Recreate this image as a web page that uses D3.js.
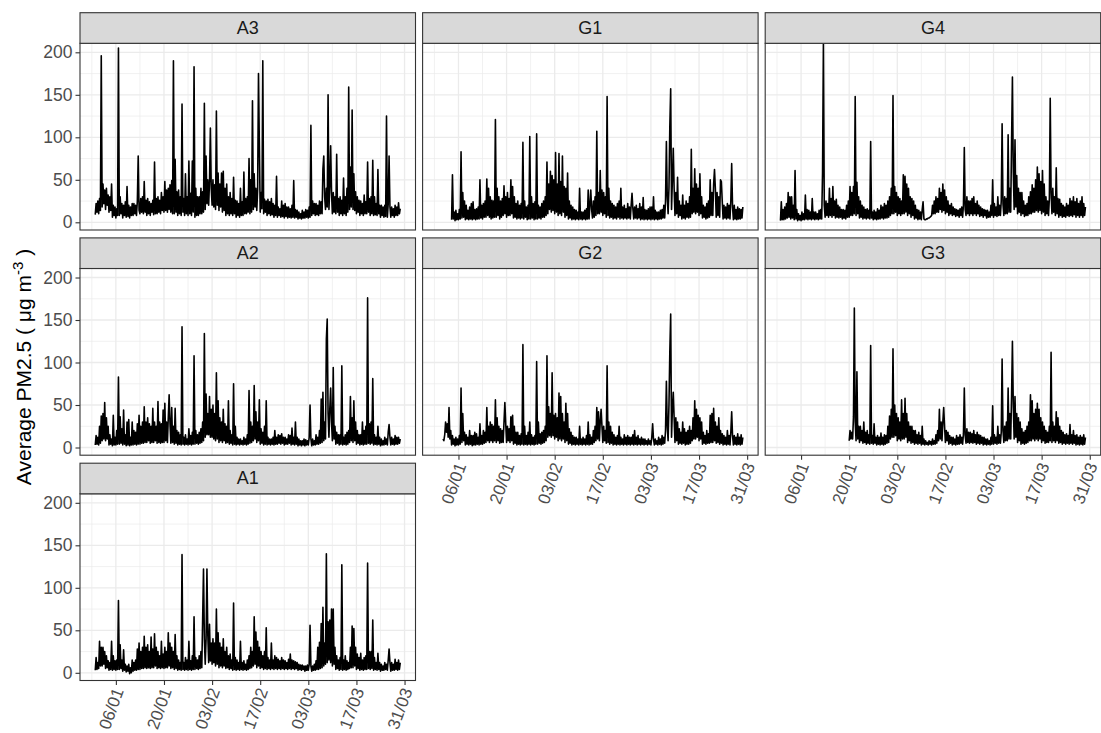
<!DOCTYPE html>
<html lang="en">

<head>
    <meta charset="UTF-8">
    <script src="https://d3js.org/d3.v7.min.js"></script>
    <title>PM2.5 by site</title>
    <style>
        body { margin: 0; background: #fff; }
        text { font-family: "Liberation Sans", Arial, sans-serif; }
    </style>
</head>

<body>
    <script>
        // 6-hourly PM2.5, first value at 31/12 00:00 + offset steps
        var a3 = [
            9,22,12,25, 10,28,14,196, 18,45,22,38, 15,40,20,32, 12,30,14,45, 6,20,8,18, 5,16,8,205,
            8,30,10,22, 5,20,8,24, 6,42,7,20, 5,18,8,22, 8,22,10,20, 8,25,78,14, 10,28,12,30,
            10,48,12,26, 8,28,10,24, 8,22,12,26, 9,71,10,28, 10,30,12,26, 10,35,14,30, 12,48,14,38,
            12,40,15,44, 12,49,10,190, 10,74,12,36, 8,38,10,30, 8,139,12,28, 8,57,10,30, 8,72,10,34,
            8,72,12,183, 6,40,8,30, 8,30,10,40, 10,36,12,140, 15,78,22,50, 20,48,111,40, 20,50,18,44,
            15,131,20,58, 14,45,18,58, 12,60,14,40, 8,45,10,30, 8,35,10,28, 8,53,10,26, 6,25,8,22,
            6,40,8,24, 8,59,10,28, 10,30,12,75, 10,50,12,143, 15,57,18,40, 14,38,175,90, 12,35,16,190,
            10,27,12,25, 8,27,10,24, 8,28,9,22, 6,20,8,54, 6,18,8,16, 6,25,7,20, 5,22,7,18,
            5,18,6,16, 5,20,6,49, 5,15,6,14, 4,12,5,10, 4,14,5,12, 5,15,6,14, 5,18,6,114,
            8,25,10,22, 8,22,9,20, 8,25,10,24, 10,63,78,30, 15,40,18,150, 15,42,90,35, 10,35,12,30,
            10,80,12,28, 8,30,10,26, 8,52,10,30, 8,40,12,159, 15,65,18,132, 15,57,14,36, 10,30,12,26,
            8,25,10,22, 8,32,10,24, 10,71,12,28, 8,30,10,73, 8,30,9,22, 8,62,10,20, 6,20,8,18,
            6,20,7,125, 6,22,78,18, 6,18,8,16, 6,20,8,18, 8,23,10,16
        ];
        var g1 = [
            3,56,4,12, 2,14,3,10, 3,15,4,83, 5,35,6,25, 3,20,4,14, 3,18,4,22, 3,24,4,15,
            3,16,4,18, 4,50,5,20, 4,22,6,25, 6,51,8,40, 6,30,4,26, 5,25,6,121, 6,40,8,30,
            4,25,6,28, 8,43,10,30, 6,35,8,28, 8,50,10,42, 5,30,6,22, 4,25,5,20, 4,22,5,94,
            4,25,6,18, 3,20,4,101, 4,30,5,22, 3,24,4,104, 4,20,5,18, 4,22,6,25, 6,30,8,71,
            10,45,15,60, 12,55,14,50, 10,82,12,45, 8,81,10,48, 8,78,12,42, 6,40,8,58, 4,25,5,20,
            3,18,4,15, 3,14,4,12, 3,40,4,12, 3,12,4,14, 3,16,4,38, 4,20,38,15, 5,25,6,30,
            8,107,10,35, 10,61,12,38, 8,35,10,30, 6,148,8,40, 5,25,6,22, 4,20,5,18, 4,22,6,25,
            4,40,5,18, 4,20,5,16, 4,22,5,18, 4,20,34,16, 4,18,5,20, 4,16,5,22, 3,18,4,29,
            3,15,4,14, 3,16,4,18, 3,18,4,30, 3,14,4,12, 3,12,4,14, 4,15,5,20, 5,25,95,30,
            10,40,113,157, 15,50,87,40, 8,35,10,53, 6,25,8,20, 4,32,5,20, 4,25,6,22, 5,30,6,86,
            10,40,12,63, 10,45,12,40, 8,57,10,30, 5,20,6,18, 4,22,5,25, 6,50,8,35, 8,45,62,40,
            6,35,8,30, 6,50,48,25, 4,20,5,18, 4,22,5,20, 4,25,69,18, 3,20,4,15, 3,18,4,16,
            4,15,5,18
        ];
        var g4 = [
            2,24,3,15, 3,18,4,22, 5,35,6,30, 4,30,5,20, 3,61,4,15, 2,10,3,8, 2,12,3,10,
            3,32,4,15, 3,14,4,12, 3,28,4,12, 3,12,4,10, 3,14,4,15, 4,58,212,20, 6,25,8,22,
            6,40,8,28, 6,42,8,25, 5,27,6,20, 5,18,6,15, 4,15,5,14, 4,20,6,25, 6,42,8,35,
            8,42,10,148, 8,47,10,30, 5,25,6,20, 4,18,5,15, 4,16,5,14, 4,95,5,12, 3,14,4,12,
            3,16,4,14, 4,20,5,18, 4,22,5,20, 5,25,6,30, 8,40,10,149, 10,42,12,35, 8,30,10,28,
            8,25,10,56, 10,54,12,45, 8,40,10,30, 6,28,8,25, 4,20,5,15, 3,14,4,12, 3,15,24,4,
            3,3,4,4, 5,5,6,7, 8,20,10,25, 10,30,12,28, 12,40,15,35, 12,45,14,38, 10,30,12,25,
            8,20,10,22, 8,18,9,16, 7,15,8,14, 6,16,8,18, 6,20,88,15, 8,30,10,25, 8,25,10,28,
            8,30,10,22, 8,25,10,20, 7,18,8,16, 6,15,8,14, 5,14,6,12, 6,20,8,50, 6,22,8,18,
            7,30,8,20, 8,25,116,22, 8,30,10,28, 10,103,12,40, 12,95,171,60, 15,97,18,55, 10,40,12,35,
            8,35,10,25, 7,20,8,22, 8,30,10,36, 10,44,12,40, 12,50,14,65, 12,57,14,48, 10,61,12,45,
            8,30,10,25, 8,28,146,35, 10,40,12,30, 8,64,10,28, 6,27,8,22, 6,20,7,18, 6,22,8,20,
            7,28,8,25, 7,30,9,24, 6,28,8,22, 6,25,8,30, 6,22,8,18
        ];
        var a2 = [
            3,14,4,12, 3,25,5,37, 8,40,10,53, 8,35,10,25, 3,15,4,10, 2,38,3,12, 3,20,4,83,
            4,36,5,22, 3,44,4,15, 2,30,3,33, 2,12,3,30, 3,20,4,18, 3,28,4,38, 4,25,5,30,
            5,48,6,30, 6,35,8,28, 5,25,6,46, 6,30,8,25, 5,54,6,30, 5,28,6,44, 6,52,8,30,
            6,35,62,28, 5,47,6,25, 4,46,5,20, 3,18,4,15, 3,142,4,12, 3,15,4,10, 3,22,4,14,
            3,18,4,108, 4,20,5,15, 4,18,5,22, 6,30,8,134, 12,63,15,40, 15,60,12,45, 12,50,10,40,
            8,88,10,55, 6,35,8,30, 6,45,8,28, 5,25,6,55, 4,20,5,15, 3,75,4,25, 3,12,4,10,
            3,10,4,8, 3,12,4,10, 3,15,4,67, 5,30,6,25, 8,73,10,42, 6,30,8,56, 4,22,5,18,
            3,25,4,55, 3,12,4,10, 3,10,4,12, 3,20,4,12, 4,15,5,14, 4,16,5,12, 3,12,4,10,
            4,15,5,14, 3,23,4,12, 3,30,4,12, 2,10,3,8, 2,8,3,10, 2,9,3,8, 3,12,50,10,
            2,10,3,8, 3,15,4,12, 4,20,5,57, 6,65,8,30, 10,128,151,40, 12,45,70,30, 8,94,10,25,
            4,18,5,15, 3,15,4,96, 3,12,4,15, 3,18,4,20, 6,60,8,35, 6,55,8,30, 4,20,5,15,
            3,15,4,30, 3,20,4,25, 4,176,5,28, 4,30,5,81, 3,15,4,12, 3,25,4,12, 2,10,3,8,
            3,12,4,10, 3,18,27,12, 3,12,4,10, 3,14,4,12, 4,12,5,10
        ];
        var g2 = [
            10,8,
            15,30,18,28, 12,47,10,20, 3,14,4,10, 2,12,3,10, 3,14,4,70, 6,40,8,18, 3,15,4,12,
            3,20,4,14, 2,14,3,18, 3,16,4,12, 3,28,4,14, 4,20,5,18, 6,47,8,25, 6,30,8,27,
            6,25,8,56, 6,35,8,25, 5,22,6,20, 6,30,53,28, 6,25,8,22, 6,36,8,38, 4,25,5,18,
            3,18,4,14, 3,16,4,121, 3,25,4,14, 3,18,4,30, 3,15,4,12, 3,14,4,101, 4,30,5,16,
            4,18,5,20, 6,25,8,108, 12,48,14,40, 12,88,14,38, 10,40,12,35, 8,64,10,60, 8,40,10,30,
            6,52,8,40, 4,22,5,18, 3,14,4,12, 3,12,4,10, 3,25,4,10, 3,12,4,10, 3,14,4,30,
            3,15,4,12, 4,20,6,25, 8,47,10,42, 8,30,45,25, 6,25,8,20, 5,96,6,30, 4,25,5,18,
            3,15,4,12, 3,14,4,25, 3,12,4,10, 3,15,4,12, 3,14,4,12, 3,12,4,15, 3,20,4,12,
            3,14,4,10, 3,12,4,10, 3,10,4,8, 3,10,4,8, 3,12,28,10, 3,10,4,8, 3,12,4,10,
            3,14,4,12, 5,20,78,25, 8,50,113,157, 12,45,65,35, 6,35,8,30, 4,22,5,18, 4,30,5,22,
            3,18,4,20, 4,25,5,20, 8,35,10,55, 10,45,12,38, 8,35,10,30, 4,18,5,14, 4,20,5,16,
            5,38,6,40, 6,46,8,30, 5,25,6,35, 4,20,5,16, 3,14,4,12, 3,20,4,14, 3,18,42,14,
            3,14,4,12, 3,16,4,12, 3,15,4,12
        ];
        var g3 = [
            8,20,10,18, 10,36,164,30, 8,89,10,25, 6,25,8,20, 5,30,6,18, 4,20,5,15, 4,120,5,14,
            4,28,5,12, 3,14,4,12, 3,17,4,12, 3,15,4,14, 5,25,6,37, 10,45,12,116, 12,50,14,40,
            8,35,10,30, 8,56,10,40, 10,58,12,40, 6,30,8,25, 5,25,6,20, 4,20,5,15, 4,18,5,14,
            3,25,4,10, 3,8,4,6, 3,8,4,7, 3,10,4,8, 4,15,5,20, 8,45,10,30, 8,30,47,25,
            6,20,8,18, 4,14,5,12, 3,12,4,10, 3,14,4,12, 4,15,5,12, 4,16,70,14, 5,22,6,18,
            5,18,6,16, 5,20,6,15, 4,18,5,15, 4,14,5,12, 3,12,4,10, 3,10,4,8, 3,12,4,49,
            4,15,5,12, 4,25,5,15, 5,18,104,20, 6,25,8,30, 8,70,10,40, 10,60,125,50, 10,60,12,40,
            6,35,8,30, 4,22,5,18, 4,20,5,25, 6,30,8,62, 8,55,10,40, 8,45,10,52, 8,45,10,35,
            6,30,8,25, 5,20,6,18, 6,25,8,112, 6,30,8,25, 6,42,8,35, 5,25,6,20, 4,18,5,15,
            4,16,5,14, 4,27,5,15, 4,20,5,14, 3,15,4,12, 3,14,4,12, 3,15,4,12
        ];
        var a1 = [
            3,18,4,12, 5,37,8,30, 8,30,10,25, 5,20,6,14, 3,12,4,37, 3,20,4,14, 3,15,4,85,
            4,33,5,15, 2,27,3,10, 1,8,2,10, -1,6,0,15, 2,12,3,15, 3,28,4,35, 4,25,5,30,
            5,43,6,30, 5,33,6,25, 5,42,6,28, 6,46,8,30, 5,25,6,20, 5,37,6,22, 5,30,6,25,
            6,47,8,35, 5,30,6,25, 4,45,5,20, 3,15,4,12, 3,139,4,12, 3,18,4,15, 3,37,4,14,
            3,20,4,66, 4,18,5,15, 4,20,5,25, 6,63,122,40, 10,40,122,45, 12,57,14,35, 10,40,12,35,
            8,75,10,47, 6,35,8,30, 6,40,8,25, 5,30,6,20, 4,22,5,15, 3,82,4,18, 3,15,4,12,
            3,37,4,12, 3,14,4,10, 3,15,4,20, 5,30,6,25, 8,66,10,48, 6,37,8,30, 5,25,6,20,
            4,25,5,53, 4,18,5,15, 4,35,5,15, 4,20,5,18, 4,16,5,14, 4,18,5,15, 4,14,5,12,
            4,16,5,22, 4,15,5,14, 4,13,5,12, 3,10,4,9, 3,9,4,8, 2,8,3,9, 3,10,56,8,
            2,8,3,10, 3,14,4,30, 4,36,5,58, 6,77,8,35, 10,140,12,60, 15,62,12,75, 8,75,10,30,
            4,20,5,15, 3,18,4,127, 3,15,4,20, 3,14,4,12, 5,30,6,55, 6,52,8,30, 4,22,5,18,
            3,23,4,15, 3,18,4,20, 4,129,5,25, 4,25,5,62, 3,18,4,12, 3,23,4,12, 2,10,3,8,
            3,12,4,10, 3,15,28,12, 2,12,3,10, 3,16,4,12, 3,15,4,12
        ];

        var sites = ["A3", "G1", "G4", "A2", "G2", "G3", "A1"];
        var series = [a3, g1, g4, a2, g2, g3, a1];
        var offsets = [0, 16, 0, 0, 6, 80, 0];
        var yTicks = [0, 50, 100, 150, 200];
        var yMinor = [25, 75, 125, 175];
        var xTicks = ["2019-01-06", "2019-01-20", "2019-02-03", "2019-02-17", "2019-03-03", "2019-03-17", "2019-03-31"];
        var xMinor = ["2018-12-30", "2019-01-13", "2019-01-27", "2019-02-10", "2019-02-24", "2019-03-10", "2019-03-24"];

        var w = 1101,
            h = 733;
        var colX = [80, 422.6, 765.2],
            rowY = [12.7, 237.9, 463.2];
        var pw = 335.5,
            sh = 30.6,
            ph = 186.7;
        var yLim = [-9.06, 210.6];
        var fs = "17.5px";

        var t0 = Date.UTC(2018, 11, 31);
        var step = 6 * 3600 * 1000;
        var parse = d3.utcParse("%Y-%m-%d");

        // x range like ggplot: data extent plus 5% each side
        var tMin = d3.min(series, function(s, i) { return t0 + offsets[i] * step; });
        var tMax = d3.max(series, function(s, i) { return t0 + (offsets[i] + s.length - 1) * step; });
        var pad = (tMax - tMin) * 0.05;

        var x = d3.scaleUtc().domain([new Date(tMin - pad), new Date(tMax + pad)]).range([0, pw]);
        var y = d3.scaleLinear().domain(yLim).range([ph, 0]);

        var svg = d3.select("body").append("svg").attr("width", w).attr("height", h);
        svg.append("rect").attr("width", w).attr("height", h).attr("fill", "#fff");
        svg.append("defs").append("clipPath").attr("id", "clip")
            .append("rect").attr("width", pw).attr("height", ph);

        var line = d3.line()
            .x(function(d) { return x(d[0]); })
            .y(function(d) { return y(d[1]); });

        sites.forEach(function(name, i) {
            var col = i % 3,
                row = Math.floor(i / 3);
            var g = svg.append("g")
                .attr("transform", "translate(" + colX[col] + "," + (rowY[row] + sh) + ")");

            g.append("rect").attr("width", pw).attr("height", ph).attr("fill", "#fff");

            //格線
            g.selectAll(".hmin").data(yMinor).enter().append("line")
                .attr("x1", 0).attr("x2", pw)
                .attr("y1", function(d) { return y(d); }).attr("y2", function(d) { return y(d); })
                .attr("stroke", "#ebebeb").attr("stroke-width", 0.7);
            g.selectAll(".vmin").data(xMinor).enter().append("line")
                .attr("y1", 0).attr("y2", ph)
                .attr("x1", function(d) { return x(parse(d)); }).attr("x2", function(d) { return x(parse(d)); })
                .attr("stroke", "#ebebeb").attr("stroke-width", 0.7);
            g.selectAll(".hmaj").data(yTicks).enter().append("line")
                .attr("x1", 0).attr("x2", pw)
                .attr("y1", function(d) { return y(d); }).attr("y2", function(d) { return y(d); })
                .attr("stroke", "#ebebeb").attr("stroke-width", 1.3);
            g.selectAll(".vmaj").data(xTicks).enter().append("line")
                .attr("y1", 0).attr("y2", ph)
                .attr("x1", function(d) { return x(parse(d)); }).attr("x2", function(d) { return x(parse(d)); })
                .attr("stroke", "#ebebeb").attr("stroke-width", 1.3);

            var pts = series[i].map(function(v, k) {
                return [new Date(t0 + (offsets[i] + k) * step), v];
            });
            g.append("path").datum(pts)
                .attr("clip-path", "url(#clip)")
                .attr("d", line)
                .attr("fill", "none")
                .attr("stroke", "#000")
                .attr("stroke-width", 1.6)
                .attr("stroke-linejoin", "round");

            g.append("rect").attr("width", pw).attr("height", ph)
                .attr("fill", "none").attr("stroke", "#333").attr("stroke-width", 1.1);

            // strip
            var s = svg.append("g")
                .attr("transform", "translate(" + colX[col] + "," + rowY[row] + ")");
            s.append("rect").attr("width", pw).attr("height", sh)
                .attr("fill", "#d9d9d9").attr("stroke", "#333").attr("stroke-width", 1.1);
            s.append("text")
                .attr("x", pw / 2).attr("y", sh / 2)
                .attr("text-anchor", "middle").attr("dominant-baseline", "central")
                .attr("fill", "#1a1a1a").style("font-size", "18px")
                .text(name);

            // y axis only on the left column
            if (col === 0) {
                var ya = g.append("g")
                    .call(d3.axisLeft(y).tickValues(yTicks).tickSize(4.5).tickPadding(3));
                ya.select(".domain").remove();
                ya.selectAll("line").attr("stroke", "#333").attr("stroke-width", 1.1);
                ya.selectAll("text").attr("fill", "#4d4d4d").style("font-size", fs)
                    .style("font-family", "'Liberation Sans', Arial, sans-serif");
            }

            // x axis where no panel sits below
            if (i + 3 >= sites.length) {
                var xa = g.append("g").attr("transform", "translate(0," + ph + ")")
                    .call(d3.axisBottom(x).tickValues(xTicks.map(parse))
                        .tickFormat(d3.utcFormat("%d/%m")).tickSize(4.5));
                xa.select(".domain").remove();
                xa.selectAll("line").attr("stroke", "#333").attr("stroke-width", 1.1);
                xa.selectAll("text")
                    .attr("x", 0).attr("y", 0).attr("dy", "0.35em")
                    .attr("text-anchor", "end")
                    .attr("transform", "translate(2,8) rotate(-70)")
                    .attr("fill", "#4d4d4d").style("font-size", "17px")
                    .style("font-family", "'Liberation Sans', Arial, sans-serif");
            }
        });

        // y title
        var title = svg.append("text")
            .attr("transform", "translate(30.5,367) rotate(-90)")
            .attr("text-anchor", "middle")
            .attr("fill", "#000")
            .style("font-size", "21px");
        title.append("tspan").text("Average PM2.5 ( \u03bcg m");
        title.append("tspan").attr("dy", -8).style("font-size", "15px").text("-3");
        title.append("tspan").attr("dy", 8).text(" )");
    </script>
</body>

</html>
